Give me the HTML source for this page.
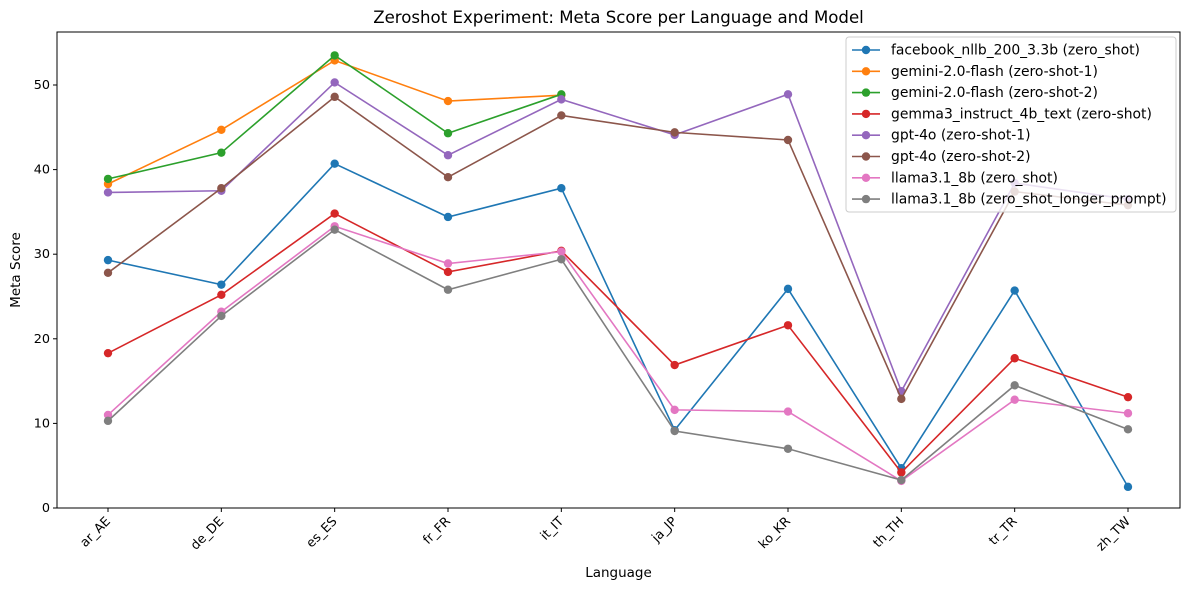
<!DOCTYPE html>
<html><head><meta charset="utf-8"><style>
body{margin:0;background:#fff;font-family:"Liberation Sans","DejaVu Sans",sans-serif}
svg text{font-family:"DejaVu Sans","Liberation Sans",sans-serif}
</style></head><body>
<svg id="chart" width="1189" height="590" xmlns="http://www.w3.org/2000/svg"></svg>
<script>
const categories=["ar_AE","de_DE","es_ES","fr_FR","it_IT","ja_JP","ko_KR","th_TH","tr_TR","zh_TW"];
const seriesNames=["facebook_nllb_200_3.3b (zero_shot)","gemini-2.0-flash (zero-shot-1)","gemini-2.0-flash (zero-shot-2)","gemma3_instruct_4b_text (zero-shot)","gpt-4o (zero-shot-1)","gpt-4o (zero-shot-2)","llama3.1_8b (zero_shot)","llama3.1_8b (zero_shot_longer_prompt)"];
const colors=["#1f77b4","#ff7f0e","#2ca02c","#d62728","#9467bd","#8c564b","#e377c2","#7f7f7f"];
const facebook=[29.3,26.4,40.7,34.4,37.8,9.2,25.9,4.7,25.7,2.5];
const gemini1=[38.3,44.7,52.9,48.1,48.8,null,null,null,null,null];
const gemini2=[38.9,42.0,53.5,44.3,48.9,null,null,null,null,null];
const gemma=[18.3,25.2,34.8,27.9,30.4,16.9,21.6,4.2,17.7,13.1];
const gpt1=[37.3,37.5,50.3,41.7,48.3,44.1,48.9,13.8,38.4,36.5];
const gpt2=[27.8,37.8,48.6,39.1,46.4,44.4,43.5,12.9,37.4,35.8];
const llama=[11.0,23.2,33.3,28.9,30.3,11.6,11.4,3.2,12.8,11.2];
const llamaLong=[10.3,22.7,32.9,25.8,29.4,9.1,7.0,3.3,14.5,9.3];
const yTicks=[0,10,20,30,40,50];
const allSeries=[facebook,gemini1,gemini2,gemma,gpt1,gpt2,llama,llamaLong];

const NS="http://www.w3.org/2000/svg";
const svg=document.getElementById('chart');
const L=57,R=1180,T=32,B=508;
const x0=108,x1=1128;
function xs(i){return x0+(x1-x0)*i/(categories.length-1);}
function ys(v){return B-v*8.46;}
function mk(tag,attrs,parent){const e=document.createElementNS(NS,tag);for(const k in attrs)e.setAttribute(k,attrs[k]);(parent||svg).appendChild(e);return e;}
function txt(s,attrs,parent){const e=mk('text',attrs,parent);e.textContent=s;return e;}

let t=txt("Zeroshot Experiment: Meta Score per Language and Model",{x:(L+R)/2,y:23,'text-anchor':'middle','font-size':16.6});

let fr=mk('rect',{x:L,y:T,width:R-L,height:B-T,fill:'none',stroke:'#000','stroke-width':1});

yTicks.forEach(v=>{const y=ys(v);mk('line',{x1:L-4,x2:L,y1:y,y2:y,stroke:'#000'});
 const e=txt(String(v),{x:L-7,y:y+4,'text-anchor':'end','font-size':12.8});
 });
categories.forEach((c,i)=>{const x=xs(i);mk('line',{x1:x,x2:x,y1:B,y2:B+4,stroke:'#000'});
 const e=txt(c,{x:x+3,y:B+14,'text-anchor':'end','font-size':12.8,transform:`rotate(-45 ${x+3} ${B+14})`});
 });
let xt=txt("Language",{x:(L+R)/2,y:577,'text-anchor':'middle','font-size':13.5});

let yt=txt("Meta Score",{x:20,y:270,'text-anchor':'middle','font-size':13.5,transform:'rotate(-90 20 270)'});


allSeries.forEach((s,k)=>{
 const g=mk('g',{});
 
 
 let pts=[];
 s.forEach((v,i)=>{if(v!==null)pts.push(xs(i)+','+ys(v));});
 mk('polyline',{points:pts.join(' '),fill:'none',stroke:colors[k],'stroke-width':1.6},g);
 s.forEach((v,i)=>{if(v===null)return;const c=mk('circle',{cx:xs(i),cy:ys(v),r:4.2,fill:colors[k]},g);
  });
});
const lg=mk('g',{});


mk('rect',{x:846,y:37,width:330,height:175,rx:3,fill:'#fff','fill-opacity':0.8,stroke:'#ccc'},lg);
seriesNames.forEach((n,k)=>{const y=50+k*21.3;
 const e=mk('g',{},lg);
 
 
 mk('line',{x1:852,x2:880,y1:y,y2:y,stroke:colors[k],'stroke-width':1.6},e);
 mk('circle',{cx:866,cy:y,r:4.2,fill:colors[k]},e);
 txt(n,{x:891,y:y+4.5,'font-size':13.9},e);});
</script>
</body></html>
